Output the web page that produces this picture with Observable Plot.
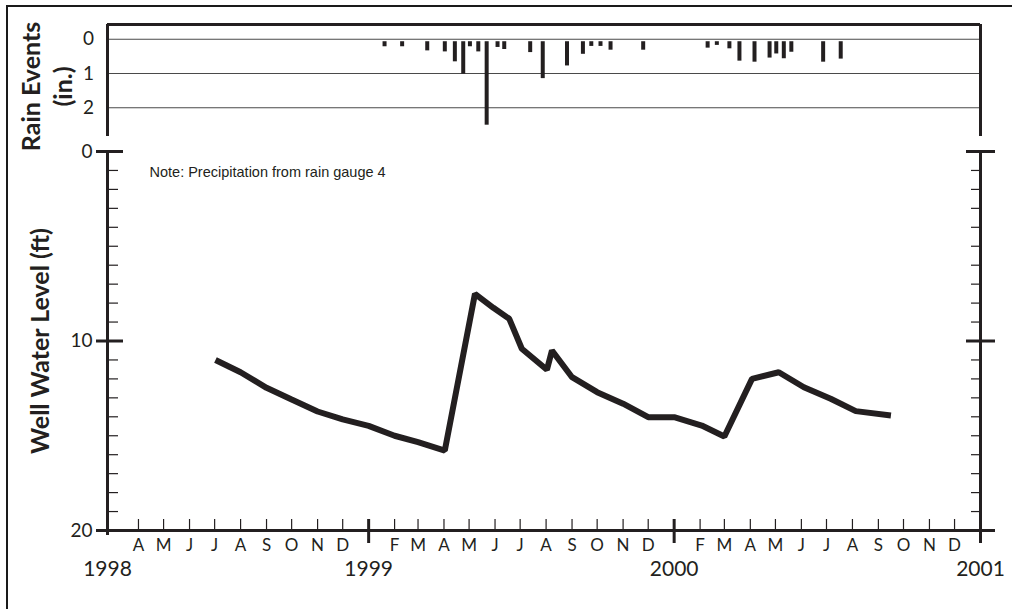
<!DOCTYPE html>
<html><head><meta charset="utf-8">
<script src="https://cdn.jsdelivr.net/npm/d3@7"></script>
<script src="https://cdn.jsdelivr.net/npm/@observablehq/plot@0.6"></script>
<style>
body{margin:0;background:#fff;}
#wrap{position:relative;width:1012px;height:609px;overflow:hidden;background:#fff;}
#wrap svg{position:absolute;left:0;top:0;}
#border{position:absolute;left:6px;top:5px;width:1100px;height:700px;border-top:2px solid #1a1a1a;border-left:2px solid #1a1a1a;}
</style></head><body><div id="wrap"><div id="border"></div></div>
<script>
// ---- data ----
const wellDates = ["1998-07-02","1998-08-01","1998-09-01","1998-10-01","1998-11-01","1998-12-01",
  "1999-01-01","1999-02-01","1999-03-01","1999-04-02","1999-05-08","1999-05-30","1999-06-18",
  "1999-07-03","1999-08-02","1999-08-08","1999-09-01","1999-10-01","1999-11-01","1999-12-01",
  "2000-01-01","2000-02-03","2000-03-01","2000-04-03","2000-05-05","2000-06-04","2000-07-06",
  "2000-08-05","2000-09-16"];
const wellLevels = [11.0,11.65,12.47,13.09,13.72,14.14,
  14.48,15.0,15.34,15.78,7.51,8.25,8.83,
  10.41,11.52,10.5,11.91,12.7,13.31,14.02,
  14.02,14.46,15.04,12.0,11.65,12.44,13.05,
  13.7,13.93];
const rainDates = ["1999-01-20","1999-02-10","1999-03-12","1999-04-02","1999-04-14","1999-04-24",
  "1999-05-02","1999-05-12","1999-05-22","1999-06-04","1999-06-12","1999-07-13","1999-07-28",
  "1999-08-26","1999-09-14","1999-09-24","1999-10-05","1999-10-17","1999-11-25",
  "2000-02-10","2000-02-21","2000-03-07","2000-03-19","2000-04-06","2000-04-24","2000-05-02",
  "2000-05-11","2000-05-20","2000-06-27","2000-07-18"];
const rainInches = [0.22,0.22,0.34,0.37,0.66,1.02,
  0.22,0.37,2.51,0.24,0.30,0.39,1.15,
  0.78,0.44,0.21,0.21,0.32,0.32,
  0.26,0.18,0.28,0.64,0.67,0.55,0.43,
  0.57,0.38,0.67,0.58];
const rainTicks = [0, 1, 2];
const levelMajorTicks = [0, 10, 20];
const levelMinorTicks = [1,2,3,4,5,6,7,8,9,11,12,13,14,15,16,17,18,19];
const yearTickDates = ["1999-01-01","2000-01-01","2001-01-01"];
const yearLabels = ["1998","1999","2000","2001"];
const monthLetters = ["J","F","M","A","M","J","J","A","S","O","N","D"];
const noteText = "Note: Precipitation from rain gauge 4";

// ---- build ----
const ink = "#231f20";
const xStart = new Date("1998-02-23");
const xEnd = new Date("2001-01-01");
const well = wellDates.map((d, i) => ({date: new Date(d), level: wellLevels[i]}));
const rain = rainDates.map((d, i) => ({date: new Date(d), inches: rainInches[i]}));
const yearTicks = yearTickDates.map(d => new Date(d));
const yearLabelPos = [xStart, ...yearTicks];
const monthTicks = d3.utcMonth.range(new Date("1998-04-01"), xEnd).filter(d => d.getUTCMonth() !== 0);

const W = 1012, H = 609;
const common = {
  width: W, height: H, marginLeft: 107, marginRight: 32,
  style: {background: "transparent", overflow: "visible", fontFamily: "Lato", color: ink}
};
const xOpts = {type: "utc", domain: [xStart, xEnd], axis: null};
const rainTop = -0.43, rainBottom = 2.84;

const rainPlot = Plot.plot({
  ...common,
  marginTop: 24, marginBottom: H - 136,
  x: xOpts,
  y: {domain: [rainTop, rainBottom], reverse: true, axis: null},
  marks: [
    Plot.ruleY(rainTicks, {stroke: "#4a4a4a", strokeWidth: 1.2}),
    Plot.ruleY([rainTop], {stroke: ink, strokeWidth: 3}),
    Plot.ruleX([xStart, xEnd], {stroke: ink, strokeWidth: 3}),
    Plot.ruleX(rain, {x: "date", y1: 0, y2: "inches", stroke: ink, strokeWidth: 4, strokeLinecap: "butt", insetTop: 2.5}),
    Plot.text(rainTicks, {y: d => d, frameAnchor: "left", dx: -19, textAnchor: "middle", text: d => String(d), fontSize: 19, fill: ink}),
    Plot.text(["Rain Events"], {frameAnchor: "left", rotate: -90, dx: -76, dy: 6, textAnchor: "middle", fontSize: 25, fontWeight: 700, fill: ink}),
    Plot.text(["(in.)"], {frameAnchor: "left", rotate: -90, dx: -44, dy: 6, textAnchor: "middle", fontSize: 25, fontWeight: 700, fill: ink})
  ]
});

const mainPlot = Plot.plot({
  ...common,
  marginTop: 151, marginBottom: H - 530,
  x: xOpts,
  y: {domain: [0, 20], reverse: true, axis: null},
  marks: [
    // minor ticks
    Plot.ruleY(levelMinorTicks, {x1: () => xStart, x2: () => xStart, insetLeft: 0, insetRight: -11, stroke: ink, strokeWidth: 1.2}),
    Plot.ruleY(levelMinorTicks, {x1: () => xEnd, x2: () => xEnd, insetLeft: -9, insetRight: 0, stroke: ink, strokeWidth: 1.2}),
    Plot.ruleX(monthTicks, {x: d => d, y1: () => 20, y2: () => 20, insetTop: -11, insetBottom: 0, stroke: ink, strokeWidth: 1.2}),
    // axis lines
    Plot.ruleX([xStart, xEnd], {y1: () => 0, y2: () => 20, insetBottom: -5, stroke: ink, strokeWidth: 3}),
    Plot.ruleY([20], {stroke: ink, strokeWidth: 3}),
    // major ticks
    Plot.ruleY(levelMajorTicks, {x1: () => xStart, x2: () => xStart, insetLeft: -11, insetRight: -16, stroke: ink, strokeWidth: 3}),
    Plot.ruleY(levelMajorTicks, {x1: () => xEnd, x2: () => xEnd, insetLeft: -14, insetRight: -15, stroke: ink, strokeWidth: 3}),
    Plot.ruleX(yearTicks, {x: d => d, y1: () => 20, y2: () => 20, insetTop: -11, insetBottom: -13, stroke: ink, strokeWidth: 3}),
    // data line
    Plot.line(well, {x: "date", y: "level", stroke: ink, strokeWidth: 6, strokeLinejoin: "miter", strokeLinecap: "butt"}),
    // labels
    Plot.text(levelMajorTicks, {y: d => d, frameAnchor: "left", dx: -15, textAnchor: "end", text: d => String(d), fontSize: 19, fill: ink}),
    Plot.text(monthTicks, {x: d => d, frameAnchor: "bottom", dy: 20, textAnchor: "middle", text: d => monthLetters[d.getUTCMonth()], fontSize: 17, fill: ink}),
    Plot.text(yearLabelPos, {x: d => d, frameAnchor: "bottom", dy: 45, textAnchor: "middle", text: (d, i) => yearLabels[i], fontSize: 21, fill: ink}),
    Plot.text(["Well Water Level (ft)"], {frameAnchor: "left", rotate: -90, dx: -67, textAnchor: "middle", fontSize: 25, fontWeight: 700, fill: ink}),
    Plot.text([noteText], {frameAnchor: "top-left", dx: 42, dy: 15, textAnchor: "start", fontFamily: "Liberation Sans", fontSize: 14.5, fill: ink})
  ]
});

const wrap = document.getElementById("wrap");
wrap.appendChild(mainPlot);
wrap.appendChild(rainPlot);
</script>
</body></html>
